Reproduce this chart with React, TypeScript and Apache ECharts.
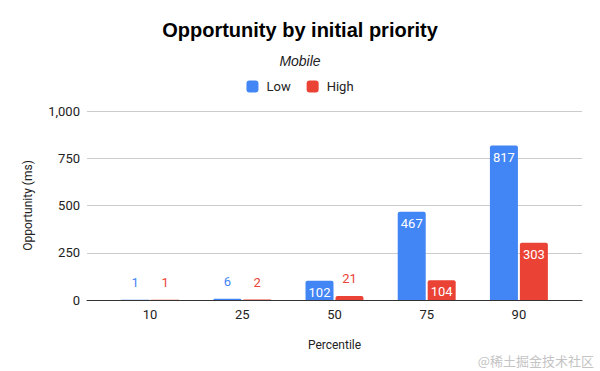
import React, { useEffect, useRef } from "react";
import * as echarts from "echarts";

const categories = ["10", "25", "50", "75", "90"];
const lowValues = [1, 6, 102, 467, 817];
const highValues = [1, 2, 21, 104, 303];
const yTicks = { min: 0, max: 1000, interval: 250 };
const LOW_COLOR = "#4285F4";
const HIGH_COLOR = "#EA4335";

function buildData(values: number[], color: string) {
  return values.map((v) => ({
    value: v,
    label:
      v >= 100
        ? { position: "insideTop", distance: 5, color: "#ffffff" }
        : { position: "top", distance: 11, color },
  }));
}

export default function App() {
  const ref = useRef<HTMLDivElement>(null);
  useEffect(() => {
    document.body.style.margin = "0";
    const chart = echarts.init(ref.current!, null, { renderer: "svg" });
    const fmt = (v: number) => v.toLocaleString("en-US");
    chart.setOption({
      animation: false,
      backgroundColor: "#ffffff",
      title: [
        {
          text: "Opportunity by initial priority",
          left: "center",
          top: 15,
          textStyle: { fontFamily: "Liberation Sans, Arial", fontWeight: "bold", fontSize: 20, color: "#000" },
        },
        {
          text: "Mobile",
          left: "center",
          top: 49,
          textStyle: { fontFamily: "Liberation Sans, Arial", fontStyle: "italic", fontWeight: "normal", fontSize: 14, color: "#222" },
        },
      ],
      legend: {
        top: 75,
        left: "center",
        icon: "roundRect",
        itemWidth: 12,
        itemHeight: 12,
        itemGap: 16,
        textStyle: { fontFamily: "Roboto, Arial", fontSize: 13, color: "#222", padding: [0, 0, 0, 3] },
        data: ["Low", "High"],
      },
      grid: [
        { left: 87, right: 18, top: 111, bottom: 71 },
        { left: 104, right: 35, top: 111, bottom: 71 },
      ],
      xAxis: [
        {
          type: "category",
          gridIndex: 0,
          data: categories,
          axisLabel: { show: false },
          axisTick: { show: false },
          axisLine: { show: true, lineStyle: { color: "#333", width: 1 } },
          name: "Percentile",
          nameLocation: "middle",
          nameGap: 39,
          nameTextStyle: { fontFamily: "Roboto, Arial", fontSize: 12, color: "#222" },
        },
        {
          type: "category",
          gridIndex: 1,
          data: categories,
          axisLine: { show: false },
          axisTick: { show: false },
          axisLabel: { fontFamily: "Roboto, Arial", fontSize: 13, color: "#222", margin: 8 },
        },
      ],
      yAxis: [
        {
          type: "value",
          gridIndex: 0,
          min: yTicks.min,
          max: yTicks.max,
          interval: yTicks.interval,
          axisLine: { show: false },
          axisTick: { show: false },
          axisLabel: { fontFamily: "Roboto, Arial", fontSize: 13, color: "#222", margin: 7, formatter: fmt },
          splitLine: { lineStyle: { color: "#cccccc", width: 1 } },
          name: "Opportunity (ms)",
          nameLocation: "middle",
          nameGap: 53,
          nameTextStyle: { fontFamily: "Roboto, Arial", fontSize: 12, color: "#222" },
        },
        {
          type: "value",
          gridIndex: 1,
          min: yTicks.min,
          max: yTicks.max,
          interval: yTicks.interval,
          show: false,
          splitLine: { show: false },
        },
      ],
      series: [
        {
          name: "Low",
          type: "bar",
          xAxisIndex: 1,
          yAxisIndex: 1,
          barWidth: 28,
          barGap: "7%",
          itemStyle: { color: LOW_COLOR, borderRadius: [2, 2, 0, 0] },
          label: { show: true, fontFamily: "Roboto, Arial", fontSize: 13 },
          data: buildData(lowValues, LOW_COLOR),
        },
        {
          name: "High",
          type: "bar",
          xAxisIndex: 1,
          yAxisIndex: 1,
          barWidth: 28,
          barGap: "7%",
          itemStyle: { color: HIGH_COLOR, borderRadius: [2, 2, 0, 0] },
          label: { show: true, fontFamily: "Roboto, Arial", fontSize: 13 },
          data: buildData(highValues, HIGH_COLOR),
        },
      ],
      graphic: [
        {
          type: "text",
          right: 6,
          bottom: 4,
          style: {
            text: "@稀土掘金技术社区",
            fontFamily: "Noto Sans CJK SC",
            fontSize: 13,
            fill: "#c4c4c4",
          },
        },
      ],
    });
    return () => chart.dispose();
  }, []);
  return <div ref={ref} style={{ width: 600, height: 371 }} />;
}
